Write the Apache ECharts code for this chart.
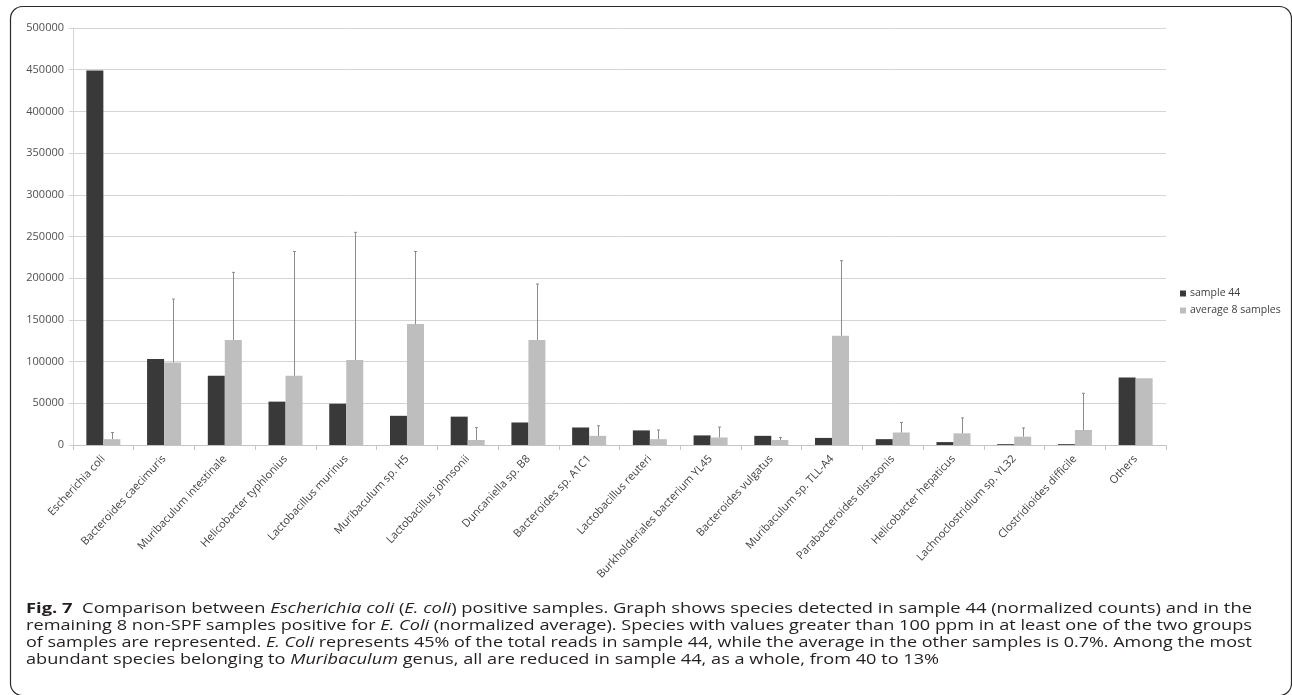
<!DOCTYPE html>
<html>
<head>
<meta charset="utf-8">
<script src="https://cdn.jsdelivr.net/npm/echarts@6/dist/echarts.min.js"></script>
<style>
html,body{margin:0;padding:0;background:#fff;}
#chart{width:1292px;height:695px;}
</style>
</head>
<body>
<div id="chart"></div>
<script>
var categories = ['Escherichia coli','Bacteroides caecimuris','Muribaculum intestinale','Helicobacter typhlonius','Lactobacillus murinus','Muribaculum sp. H5','Lactobacillus johnsonii','Duncaniella sp. B8','Bacteroides sp. A1C1','Lactobacillus reuteri','Burkholderiales bacterium YL45','Bacteroides vulgatus','Muribaculum sp. TLL-A4','Parabacteroides distasonis','Helicobacter hepaticus','Lachnoclostridium sp. YL32','Clostridioides difficile','Others'];
var sample44 = [449000,103000,83000,52000,49500,35000,34000,27000,21000,17500,11500,11000,8500,7000,3500,1000,1000,81000];
var average8 = [7000,99000,126000,83000,102000,145000,6000,126000,11000,7000,9000,6000,131000,15000,14000,10000,18000,80000];
var average8ErrTop = [15000,175000,207000,232000,255000,232000,21000,193000,23000,18000,21500,9000,221000,27000,32500,20500,62000,null];
var yTicks = [0,50000,100000,150000,200000,250000,300000,350000,400000,450000,500000];

var captionLines = [
  '{b|Fig. 7}  Comparison between {i|Escherichia coli} ({i|E. coli}) positive samples. Graph shows species detected in sample 44 (normalized counts) and in the',
  'remaining 8 non-SPF samples positive for {i|E. Coli} (normalized average). Species with values greater than 100 ppm in at least one of the two groups',
  'of samples are represented. {i|E. Coli} represents 45% of the total reads in sample 44, while the average in the other samples is 0.7%. Among the most',
  'abundant species belonging to {i|Muribaculum} genus, all are reduced in sample 44, as a whole, from 40 to 13%'
];

var capFont = '"Open Sans", "Noto Sans", sans-serif';
var capSize = 15;
var ctx = document.createElement('canvas').getContext('2d');
function measureRich(line) {
  var re = /\{([bi])\|([^}]*)\}/g, last = 0, m, w = 0;
  function seg(txt, pre) { ctx.font = pre + capSize + 'px ' + capFont; w += ctx.measureText(txt).width; }
  while ((m = re.exec(line)) !== null) {
    if (m.index > last) seg(line.slice(last, m.index), '');
    seg(m[2], m[1] === 'b' ? 'bold ' : 'italic ');
    last = re.lastIndex;
  }
  if (last < line.length) seg(line.slice(last), '');
  return w;
}
var targetW = 1226;
var scales = captionLines.map(function(l){ return targetW / measureRich(l); });
scales[3] = (scales[0] + scales[1] + scales[2]) / 3;

var chart = echarts.init(document.getElementById('chart'), null, {renderer:'canvas'});

var errData = [];
for (var i = 0; i < categories.length; i++) {
  if (average8ErrTop[i] != null) errData.push([i, average8[i], average8ErrTop[i]]);
}

var graphics = [{
  type:'rect', silent:true,
  shape:{x:10.5, y:6.5, width:1281, height:689, r:12},
  style:{fill:'none', stroke:'#2a2a2a', lineWidth:1.2}
}];
var capY = [609, 626, 643, 660];
captionLines.forEach(function(t, k){
  graphics.push({
    type:'text', silent:true, x:26, y:capY[k], scaleX:scales[k], scaleY:1,
    style:{
      text:t, fill:'#231f20', fontSize:capSize, fontFamily:capFont, verticalAlign:'middle', align:'left',
      rich:{
        b:{fontWeight:'bold', fontSize:capSize, fontFamily:capFont, fill:'#231f20'},
        i:{fontStyle:'italic', fontSize:capSize, fontFamily:capFont, fill:'#231f20'}
      }
    }
  });
});

chart.setOption({
  animation:false,
  textStyle:{fontFamily:'"Open Sans", sans-serif'},
  grid:{left:73, right:126, top:28, bottom:250, containLabel:false},
  legend:{
    orient:'vertical', left:1175, top:283,
    itemWidth:6, itemHeight:6, itemGap:6, icon:'rect',
    textStyle:{fontSize:10.5, color:'#404040', padding:[0,0,0,-1]},
    data:['sample 44','average 8 samples']
  },
  xAxis:{
    type:'category', data:categories,
    axisLine:{lineStyle:{color:'#c4c4c4'}},
    axisTick:{show:true, length:5, lineStyle:{color:'#c4c4c4'}},
    axisLabel:{rotate:47, interval:0, fontSize:11, color:'#404040', margin:12}
  },
  yAxis:{
    type:'value', min:0, max:500000, interval:50000,
    axisLine:{show:true, lineStyle:{color:'#d4d4d4'}},
    axisTick:{show:true, length:4, lineStyle:{color:'#d4d4d4'}},
    axisLabel:{fontSize:11, color:'#505050', margin:9,
      formatter:function(v){ return yTicks.indexOf(v) >= 0 ? String(v) : ''; }},
    splitLine:{lineStyle:{color:'#d4d4d4'}}
  },
  series:[
    {name:'sample 44', type:'bar', data:sample44, barWidth:'28%', barGap:'0%',
     itemStyle:{color:'#393939'}},
    {name:'average 8 samples', type:'bar', data:average8, barWidth:'28%', barGap:'0%',
     itemStyle:{color:'#bebebe'}},
    {name:'err', type:'custom', data:errData, silent:true, z:3,
     encode:{x:0, y:[1,2]},
     renderItem:function(params, api){
       var idx = api.value(0);
       var band = api.size([1,0])[0];
       var p0 = api.coord([idx, api.value(1)]);
       var p1 = api.coord([idx, api.value(2)]);
       var x = Math.round(p0[0] + band*0.14) + 0.5;
       return {type:'group', children:[
         {type:'line', shape:{x1:x, y1:p0[1], x2:x, y2:p1[1]}, style:{stroke:'#8c8c8c', lineWidth:1}},
         {type:'line', shape:{x1:x-1.5, y1:p1[1], x2:x+1.5, y2:p1[1]}, style:{stroke:'#8c8c8c', lineWidth:1}}
       ]};
     }}
  ],
  graphic:graphics
});
</script>
</body>
</html>
